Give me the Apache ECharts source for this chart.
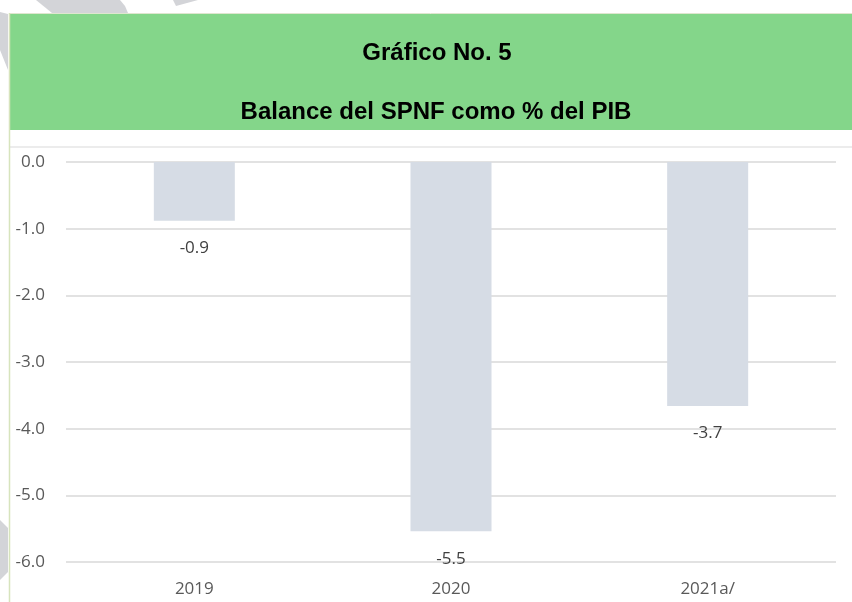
<!DOCTYPE html>
<html>
<head>
<meta charset="utf-8">
<script src="https://cdn.jsdelivr.net/npm/echarts@6/dist/echarts.min.js"></script>
<style>html,body{margin:0;padding:0;background:#fff}#c{width:852px;height:602px}</style>
</head>
<body>
<div id="c"></div>
<script>
const categories = ['2019', '2020', '2021a/'];
const balanceValues = [-0.88, -5.54, -3.66];
const yTicks = [0, -1, -2, -3, -4, -5, -6];
const titleLine1 = 'Gráfico No. 5';
const titleLine2 = 'Balance del SPNF como % del PIB';

const chart = echarts.init(document.getElementById('c'), null, {renderer: 'canvas'});
const labelFont = '"Open Sans", "Noto Sans", sans-serif';
const titleFont = '"Liberation Sans Narrow", "Liberation Sans", Arial, sans-serif';
const wm = '#d3d4d8';

chart.setOption({
  animation: false,
  backgroundColor: '#ffffff',
  graphic: [
    {type: 'polygon', z: -20, shape: {points: [[36,0],[120,0],[125,6],[128,13],[52,13]]}, style: {fill: wm}},
    {type: 'polygon', z: -20, shape: {points: [[173,0],[198,0],[176,6]]}, style: {fill: wm}},
    {type: 'polygon', z: -20, shape: {points: [[0,12],[8,14],[8,70],[0,50]]}, style: {fill: wm}},
    {type: 'polygon', z: -20, shape: {points: [[0,520],[8,528],[8,572],[0,580]]}, style: {fill: wm}},
    {type: 'rect', z: -10, shape: {x: 10, y: 14, width: 842, height: 116}, style: {fill: '#84d68a'}},
    {type: 'line', z: -9, shape: {x1: 9, y1: 13.5, x2: 852, y2: 13.5}, style: {stroke: '#dfe6cf', lineWidth: 1}},
    {type: 'line', z: -9, shape: {x1: 9.5, y1: 13, x2: 9.5, y2: 602}, style: {stroke: '#d7e4bd', lineWidth: 1.5}},
    {type: 'line', z: -9, shape: {x1: 10, y1: 147, x2: 852, y2: 147}, style: {stroke: '#d9d9d9', lineWidth: 1}},
    {type: 'text', x: 437, y: 53, style: {text: titleLine1, fill: '#000', font: 'bold 24px ' + titleFont, textAlign: 'center', textVerticalAlign: 'middle'}},
    {type: 'text', x: 436, y: 112, style: {text: titleLine2, fill: '#000', font: 'bold 24px ' + titleFont, textAlign: 'center', textVerticalAlign: 'middle'}}
  ],
  grid: {left: 66, right: 16, top: 162, bottom: 40, containLabel: false},
  xAxis: {
    type: 'category',
    data: categories,
    position: 'bottom',
    axisLine: {show: false},
    axisTick: {show: false},
    axisLabel: {color: '#595959', fontFamily: labelFont, fontSize: 17, margin: 19}
  },
  yAxis: {
    type: 'value',
    min: -6,
    max: 0,
    interval: 1,
    axisLine: {show: false},
    axisTick: {show: false},
    splitLine: {lineStyle: {color: '#d9d9d9', width: 1.5}},
    axisLabel: {
      color: '#595959', fontFamily: labelFont, fontSize: 17, margin: 21,
      formatter: v => (yTicks.includes(v) ? v.toFixed(1) : '')
    }
  },
  series: [{
    type: 'bar',
    data: balanceValues,
    barWidth: 81,
    itemStyle: {color: '#d6dce5'},
    label: {
      show: true,
      position: 'bottom',
      distance: 19,
      color: '#404040',
      fontFamily: labelFont,
      fontSize: 17,
      formatter: p => p.value.toFixed(1)
    }
  }]
});
</script>
</body>
</html>
